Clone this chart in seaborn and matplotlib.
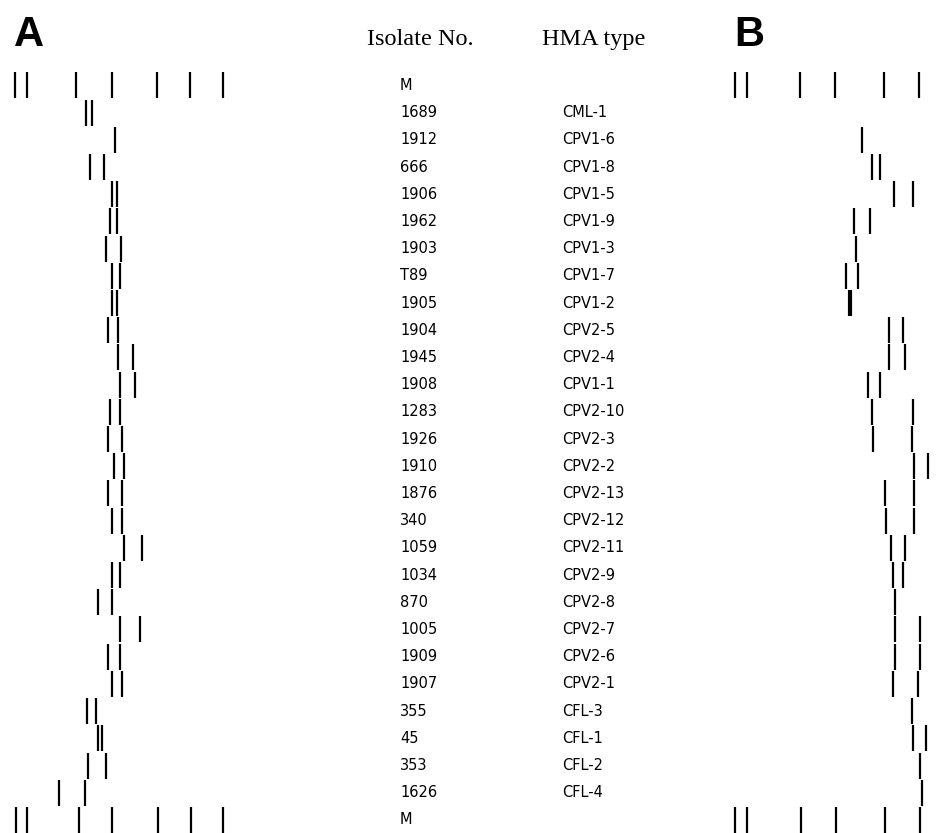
import matplotlib
matplotlib.use("Agg")
import matplotlib.pyplot as plt
import seaborn as sns
import pandas as pd

sns.set_style("white")
plt.rcParams['font.family'] = ['DejaVu Sans']
plt.rcParams['text.color'] = 'black'

# ---- data ----
isolates = ["M", "1689", "1912", "666", "1906", "1962", "1903", "T89", "1905", "1904",
            "1945", "1908", "1283", "1926", "1910", "1876", "340", "1059", "1034", "870",
            "1005", "1909", "1907", "355", "45", "353", "1626", "M"]
hma_types = ["", "CML-1", "CPV1-6", "CPV1-8", "CPV1-5", "CPV1-9", "CPV1-3", "CPV1-7",
             "CPV1-2", "CPV2-5", "CPV2-4", "CPV1-1", "CPV2-10", "CPV2-3", "CPV2-2",
             "CPV2-13", "CPV2-12", "CPV2-11", "CPV2-9", "CPV2-8", "CPV2-7", "CPV2-6",
             "CPV2-1", "CFL-3", "CFL-1", "CFL-2", "CFL-4", ""]

# band positions (migration, px from left of each gel panel)
bands_A = [
    [15, 27, 76, 112, 157, 190, 223],
    [86, 92], [115], [90, 104], [112, 117], [110, 117], [106, 121], [112, 120],
    [112, 117], [108, 118], [118, 133], [120, 135], [110, 120], [108, 122],
    [114, 124], [108, 122], [112, 122], [124, 142], [112, 120], [98, 112],
    [120, 140], [108, 120], [112, 122], [87, 96], [98, 102], [88, 106], [59, 85],
    [16, 27, 79, 112, 158, 191, 223],
]
bands_B = [
    [15, 27, 80, 115, 164, 199],
    [], [142], [152, 160], [174, 193], [134, 150], [136], [126, 138],
    [130], [169, 183], [169, 185], [148, 160], [152, 193], [153, 192],
    [194, 208], [165, 194], [166, 194], [171, 185], [173, 183], [175],
    [175, 200], [175, 200], [173, 198], [192], [193, 206], [200], [202],
    [15, 27, 81, 116, 165, 200],
]
# intense (thick) bands: (lane, position) in panel B
strong_B = [(8, 130)]

def to_long(bands, strong=()):
    rows = []
    for lane, pos_list in enumerate(bands):
        for p in pos_list:
            rows.append({"lane": lane, "pos": p, "strong": (lane, p) in strong})
    return pd.DataFrame(rows)

dfA = to_long(bands_A)
dfB = to_long(bands_B, strong_B)

# ---- layout ----
W, H = 948, 833
fig = plt.figure(figsize=(W / 100, H / 100), dpi=100)
row0, step = 85.5, 27.2
ylim = ((H - row0) / step, -row0 / step)

axT = fig.add_axes([0, 0, 1, 1])
axT.set_xlim(0, W)
axT.set_ylim(*ylim)
axT.axis("off")

axA = fig.add_axes([0, 0, 240 / W, 1])
axB = fig.add_axes([720 / W, 0, 228 / W, 1])
for ax, df, xmax in [(axA, dfA, 240), (axB, dfB, 228)]:
    normal = df[~df["strong"]]
    strong = df[df["strong"]]
    sns.scatterplot(data=normal, x="pos", y="lane", marker="|", s=18.5 ** 2,
                    color="black", linewidth=1.6, ax=ax, legend=False)
    if len(strong):
        sns.scatterplot(data=strong, x="pos", y="lane", marker="|", s=18.5 ** 2,
                        color="black", linewidth=3.0, ax=ax, legend=False)
    ax.set_xlim(0, xmax)
    ax.set_ylim(*ylim)
    ax.axis("off")
    ax.patch.set_alpha(0)

for i, (iso, hm) in enumerate(zip(isolates, hma_types)):
    axT.text(400, i, iso, ha="left", va="center", fontsize=10.5, color="black")
    if hm:
        axT.text(562, i, hm, ha="left", va="center", fontsize=10.5, color="black")

axT.text(367, 45 / step - row0 / step, "Isolate No.", ha="left", va="baseline",
         fontsize=17.5, family="Liberation Serif", color="black")
axT.text(542, 45 / step - row0 / step, "HMA type", ha="left", va="baseline",
         fontsize=17.5, family="Liberation Serif", color="black")
axT.text(14, 46 / step - row0 / step, "A", ha="left", va="baseline",
         fontsize=30, fontweight="bold", family="Liberation Sans", color="black")
axT.text(734, 46 / step - row0 / step, "B", ha="left", va="baseline",
         fontsize=30, fontweight="bold", family="Liberation Sans", color="black")

fig.savefig("out.png", dpi=100)
